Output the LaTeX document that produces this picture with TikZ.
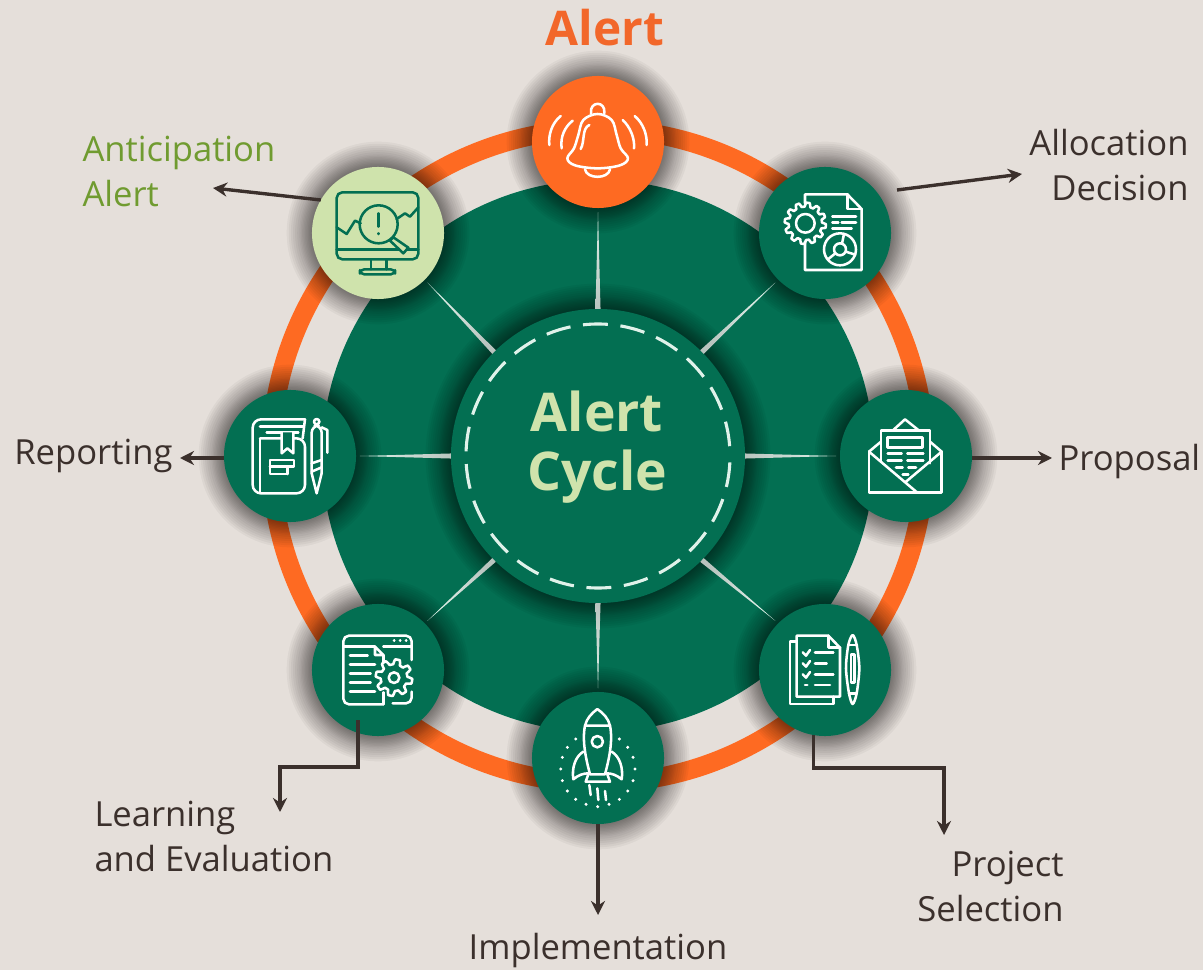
\documentclass[tikz,border=0pt]{standalone}
\usepackage{fontspec}
\setmainfont{Open Sans}
\usetikzlibrary{arrows.meta, positioning, calc}
\definecolor{paper}{RGB}{229, 223, 218}
\definecolor{forest}{RGB}{3, 111, 82}
\definecolor{flame}{RGB}{254, 106, 34}
\definecolor{flame_text}{RGB}{242, 103, 42}
\definecolor{pale_green}{RGB}{207, 227, 172}
\definecolor{leaf_green}{RGB}{112, 155, 48}
\definecolor{dark_brown}{RGB}{59, 48, 44}
\definecolor{mist}{RGB}{224, 242, 234}
\def \gearicon#1#2#3#4#5{\draw[icon=white] plot[domain=0:360, samples=#5*12+1, variable=\t]
    ({#1+((#3+#4)/2+(#4-#3)/2*max(-1,min(1,2.5*sin(#5*\t))))*cos(\t)},
     {#2+((#3+#4)/2+(#4-#3)/2*max(-1,min(1,2.5*sin(#5*\t))))*sin(\t)}) -- cycle;}

\begin{document}
\begin{tikzpicture}[
    x=0.025cm, y=-0.025cm,
    halo_step/.style={
        preaction={draw=black, opacity=0.04, line width=#1}
    },
    halo/.style={
        halo_step=36pt, halo_step=33pt, halo_step=30pt, halo_step=27pt, halo_step=24pt,
        halo_step=21pt, halo_step=18pt, halo_step=16pt, halo_step=14pt, halo_step=12pt,
        halo_step=10pt, halo_step=8pt, halo_step=6pt, halo_step=4pt, halo_step=2pt
    },
    orbit/.style={
        circle,
        fill=#1,
        minimum size=3.3cm,
        inner sep=0pt,
        outer sep=0pt,
        halo
    },
    hub/.style={
        circle,
        fill=forest,
        minimum size=7.35cm,
        inner sep=0pt,
        outer sep=0pt,
        halo
    },
    hub_text/.style={
        text=pale_green,
        font=\fontsize{38}{42}\selectfont\bfseries,
        align=center
    },
    label_text/.style={
        text=#1,
        font=\fontsize{24.6}{32}\selectfont,
        inner sep=3pt
    },
    icon/.style={
        draw=#1,
        line width=1.8pt,
        line cap=round,
        line join=round
    },
    spoke/.style={
        top color=mist,
        bottom color=mist!60!gray
    },
    arrow/.style={
        -{Stealth[length=10pt, width=10pt]},
        line width=2.4pt,
        draw=dark_brown
    },
]
\useasboundingbox (0,0) rectangle (1203,970);
\fill[paper] (0,0) rectangle (1203,970);

% Ring and big disc
\draw[flame, line width=13.5pt] (598,456) circle (327);
\fill[forest] (598,456) circle (276);

\node[hub] (hub) at (598,456) {};
\draw[mist, line width=2.2pt, dash pattern=on 17.7pt off 9pt, dash phase=22.2pt] (hub) circle (132);
\node[hub_text] (hub_title) at (597,447) {Alert\\Cycle};

\node[orbit=flame] (bell) at (598,142) {};
\node[orbit=forest] (alloc) at (825,233) {};
\node[orbit=forest] (propose) at (906,456) {};
\node[orbit=forest] (select) at (825,670) {};
\node[orbit=forest] (impl) at (598,758) {};
\node[orbit=forest] (learn) at (378,670) {};
\node[orbit=forest] (report) at (290,456) {};
\node[orbit=pale_green] (anticip) at (378,233) {};

% Spokes
\foreach \name/\ang in {bell/90, alloc/45, propose/0, select/-45, impl/-90, learn/-135, report/180, anticip/135} {
    \pgfmathsetmacro\opp{\ang+180}
    \pgfmathsetmacro\turn{\ang-90}
    \shade[spoke, shading angle=\turn]
        ($(hub.\ang)!1.8pt!90:(\name)$) -- ($(hub.\ang)!1.8pt!-90:(\name)$)
        -- ($(\name.\opp)!0.04!(hub.\ang)$) -- cycle;
}

% Labels
\node[font=\fontsize{34}{40}\selectfont\bfseries, text=flame_text] (bell_text) at (605,28) {Alert};
\node[label_text=dark_brown, anchor=east, align=right] (alloc_text) at (1193,165) {Allocation\\Decision};
\node[label_text=dark_brown, anchor=west] (propose_text) at (1054,462) {Proposal};
\node[label_text=dark_brown, anchor=east, align=right] (select_text) at (1068,886) {Project\\Selection};
\node[label_text=dark_brown, anchor=north] (impl_text) at (598,929) {Implementation};
\node[label_text=dark_brown, anchor=west, align=left] (learn_text) at (90,836) {Learning\\and Evaluation};
\node[label_text=dark_brown, anchor=east] (report_text) at (177,456) {Reporting};
\node[label_text=leaf_green, anchor=west, align=left] (anticip_text) at (78,171) {Anticipation\\Alert};

% Free ends of the arrows
\coordinate (alloc_from) at (897,190);
\coordinate (alloc_tip) at (1022,174);
\coordinate (propose_tip) at (1052,458);
\coordinate (report_tip) at (180,458);
\coordinate (anticip_tip) at (213,188);
\coordinate (impl_tip) at (598,915);
\coordinate (learn_from) at (358,720);
\coordinate (learn_elbow) at (280,767);
\coordinate (learn_tip) at (280,812);
\coordinate (select_elbow) at (944,768);
\coordinate (select_tip) at (944,835);

% Arrows
\draw[arrow] (alloc_from) -- (alloc_tip);
\draw[arrow] (propose.east |- propose_tip) -- (propose_tip);
\draw[arrow] (report.west |- report_tip) -- (report_tip);
\draw[arrow] (anticip.150) -- (anticip_tip);
\draw[arrow] (impl.south) -- (impl_tip);
\draw[arrow] (learn_from) |- (learn_elbow) -- (learn_tip);
\draw[arrow] (select.260) |- (select_elbow) -- (select_tip);

% Icon bell and icon document
\begin{scope}[shift={(500,60)}, scale=1/3]
    \draw[icon=white] plot[smooth cycle, tension=0.6] coordinates {(293,162) (250,180) (235,225) (222,265) (202,295) (225,316) (293,325) (360,316) (384,295) (362,265) (350,225) (335,180)};
    \draw[icon=white] (273,160) .. controls (268,122) and (318,122) .. (313,160);
    \draw[icon=white] (255,328) .. controls (260,358) and (325,358) .. (330,328);
    \draw[icon=white] (268,195) .. controls (245,205) and (255,245) .. (242,267);
    \draw[icon=white] (182,168) .. controls (155,190) and (145,225) .. (148,255);
    \draw[icon=white] (218,182) .. controls (195,200) and (180,230) .. (185,265);
    \draw[icon=white] (368,180) .. controls (390,200) and (405,235) .. (402,265);
    \draw[icon=white] (404,168) .. controls (430,190) and (442,225) .. (440,255);

    \draw[icon=white] (915,430) -- (915,403) -- (1042,403) -- (1085,447) -- (1085,630) -- (915,630) -- (915,545);
    \draw[icon=white] (1042,403) -- (1042,447) -- (1085,447);
    \draw[icon=white] (997,470) -- (1068,470);
    \draw[icon=white] (997,487) -- (1015,487) (1025,487) -- (1068,487);
    \draw[icon=white] (997,505) -- (1055,505);
    \gearicon{916}{490}{50}{62}{12}
    \draw[icon=white] (916,490) circle (28);
    \draw[icon=white] (1020,568) circle (48);
    \draw[icon=white] (1020,568) circle (18);
    \draw[icon=white] (1032,522) -- (1026,551);
    \draw[icon=white] (1066,584) -- (1037,575);
    \draw[icon=white] (984,598) -- (1006,580);
\end{scope}

% Icon monitor
\begin{scope}[shift={(290,150)}, scale=1/3]
    \draw[icon=forest, rounded corners=4pt] (140,127) rectangle (385,328);
    \draw[icon=forest] (140,298) -- (385,298);
    \draw[icon=forest] (243,328) -- (243,358);
    \draw[icon=forest] (290,328) -- (290,358);
    \draw[icon=forest, rounded corners=3pt] (210,358) rectangle (315,373);
    \fill[pale_green] (266,223) circle (57);
    \draw[icon=forest] (266,223) circle (57);
    \draw[icon=forest] (266,190) -- (266,230);
    \draw[icon=forest] (266,250) -- (266,252);
    \draw[icon=forest, fill=pale_green] (310,262) -- (355,293) -- (340,310) -- (300,272) -- cycle;
    \draw[icon=forest] (140,232) -- (170,252) -- (195,212) -- (212,220);
    \draw[icon=forest] (320,207) -- (345,190) -- (360,200) -- (385,172);
\end{scope}

% Icon book
\begin{scope}[shift={(210,380)}, scale=1/3]
    \draw[icon=white, rounded corners=6pt] (285,118) -- (128,118) -- (128,340) -- (285,340) -- (285,175) -- (150,175);
    \draw[icon=white] (285,118) -- (278,175);
    \draw[icon=white] (150,140) -- (278,140);
    \draw[icon=white] (170,157) -- (265,157);
    \draw[icon=white] (150,178) -- (150,340);
    \draw[icon=white, fill=forest] (215,157) -- (215,220) -- (232,205) -- (250,220) -- (250,157);
    \draw[icon=white] (232,282) -- (180,282) -- (180,240) -- (252,240) -- (252,260) -- (180,260);
    \draw[icon=white] (232,260) -- (232,282);
    \draw[icon=white] (320,125) circle (8);
    \draw[icon=white, rounded corners=5pt] (305,280) -- (305,137) -- (335,137) -- (335,280);
    \draw[icon=white] (335,142) -- (352,150) -- (352,218);
    \draw[icon=white] (305,250) -- (335,240);
    \draw[icon=white] (305,280) -- (320,340) -- (335,280);
    \draw[icon=white] (305,275) -- (335,262);
\end{scope}

% Icon envelope
\begin{scope}[shift={(830,380)}, scale=1/3]
    \draw[icon=white] (117,215) -- (117,338) -- (335,338) -- (335,215);
    \draw[icon=white] (117,215) -- (153,185);
    \draw[icon=white] (300,185) -- (335,215);
    \draw[icon=white] (190,150) -- (225,118) -- (265,150);
    \draw[icon=white] (153,245) -- (153,152) -- (300,152) -- (300,250);
    \draw[icon=white] (117,215) -- (262,338);
    \draw[icon=white] (335,215) -- (228,305);
    \draw[icon=white] (173,173) rectangle (278,202);
    \draw[icon=white] (173,220) -- (215,220) (232,220) -- (280,220);
    \draw[icon=white] (173,242) -- (215,242) (232,242) -- (280,242);
    \draw[icon=white] (198,263) -- (218,263) (235,263) -- (258,263);
    \draw[icon=white] (218,284) -- (235,284);
\end{scope}

% Icon window with gear
\begin{scope}[shift={(300,595)}, scale=1/3]
    \draw[icon=white, rounded corners=4pt] (250,328) -- (130,328) -- (130,122) -- (335,122) -- (335,195);
    \draw[icon=white, rounded corners=4pt] (335,290) -- (335,325) -- (278,325);
    \draw[icon=white] (130,155) -- (225,155);
    \draw[icon=white] (250,155) -- (335,155);
    \foreach \dotx in {282,300,318} {
        \draw[icon=white] (\dotx,137) -- (\dotx+1,137);
    }
    \draw[icon=white] (225,155) -- (225,180) -- (250,180) -- cycle;
    \draw[icon=white] (250,180) -- (250,200);
    \draw[icon=white] (250,292) -- (250,328);
    \draw[icon=white] (150,182) -- (203,182);
    \draw[icon=white] (150,209) -- (225,209);
    \draw[icon=white] (150,236) -- (212,236);
    \draw[icon=white] (150,263) -- (212,263);
    \draw[icon=white] (150,290) -- (225,290);
    \gearicon{282}{248}{40}{55}{8}
    \draw[icon=white] (282,248) circle (16);
\end{scope}

% Icon rocket
\begin{scope}[shift={(520,685)}, scale=1/3]
    \draw[icon=white] (195,122) .. controls (200,100) and (215,85) .. (232,72) .. controls (250,85) and (265,100) .. (270,122) -- cycle;
    \draw[icon=white] (195,122) .. controls (185,170) and (200,230) .. (210,268) -- (255,268) .. controls (265,230) and (280,170) .. (270,122);
    \draw[icon=white] (205,268) -- (197,290) -- (270,290) -- (262,268);
    \draw[icon=white] (232,170) circle (17);
    \draw[icon=white] (190,200) .. controls (165,215) and (155,250) .. (160,283) .. controls (175,270) and (190,265) .. (205,265);
    \draw[icon=white] (275,200) .. controls (300,215) and (310,250) .. (305,283) .. controls (290,270) and (275,265) .. (260,265);
    \draw[icon=white] (208,300) -- (212,330);
    \draw[icon=white] (232,310) -- (235,345);
    \draw[icon=white] (255,318) -- (258,345);
    \foreach \dotx/\doty in {167/162, 142/187, 127/217, 122/252, 127/287, 142/318, 167/343, 198/358, 233/365, 267/358, 298/343, 323/318, 339/287, 345/252, 339/217, 323/187, 298/162} {
        \fill[white] (\dotx,\doty) circle (5);
    }
\end{scope}

% Icon checklist
\begin{scope}[shift={(750,595)}, scale=1/3]
    \draw[icon=white] (140,140) -- (120,140) -- (120,327) -- (250,327) -- (250,305);
    \draw[icon=white] (140,122) -- (235,122) -- (270,158) -- (270,305) -- (140,305) -- cycle;
    \draw[icon=white] (235,122) -- (235,158) -- (270,158);
    \foreach \rowy in {0,33,66} {
        \draw[icon=white] (158,172+\rowy) -- (168,182+\rowy) -- (180,165+\rowy);
    }
    \draw[icon=white] (195,173) -- (250,173);
    \draw[icon=white] (195,206) -- (230,206);
    \draw[icon=white] (195,238) -- (250,238);
    \draw[icon=white] (195,270) -- (240,270);
    \draw[icon=white] (165,270) -- (172,270);
    \draw[icon=white] plot[smooth cycle, tension=0.5] coordinates {(308,120) (295,150) (288,220) (297,295) (308,327) (320,295) (328,220) (320,150)};
    \draw[icon=white] (295,150) -- (321,150);
    \draw[icon=white] (297,295) -- (319,295);
    \draw[icon=white] (303,178) rectangle (313,262);
\end{scope}
\end{tikzpicture}
\end{document}
